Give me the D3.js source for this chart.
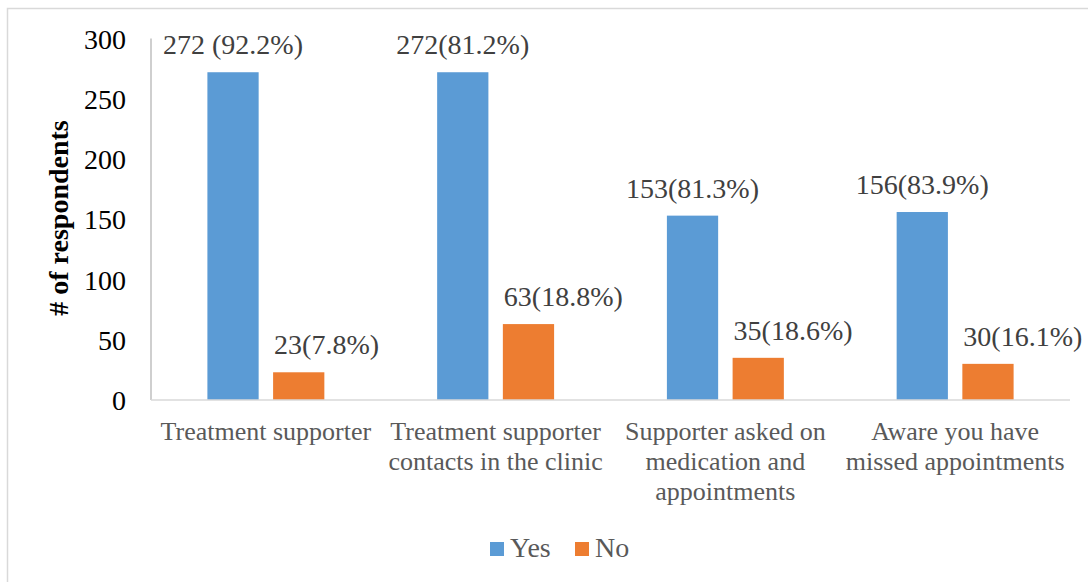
<!DOCTYPE html>
<html>
<head>
<meta charset="utf-8">
<script src="https://cdn.jsdelivr.net/npm/d3@7/dist/d3.min.js"></script>
<style>
  html, body { margin: 0; padding: 0; background: #fff; }
  svg { display: block; }
</style>
</head>
<body>
<svg id="chart" width="1088" height="582"></svg>
<script>
const categories = [
  ["Treatment supporter"],
  ["Treatment supporter", "contacts in the clinic"],
  ["Supporter asked on", "medication and", "appointments"],
  ["Aware you have", "missed appointments"]
];
const seriesNames = ["Yes", "No"];
const yesValues = [272, 272, 153, 156];
const noValues = [23, 63, 35, 30];
const yesLabels = ["272 (92.2%)", "272(81.2%)", "153(81.3%)", "156(83.9%)"];
const noLabels = ["23(7.8%)", "63(18.8%)", "35(18.6%)", "30(16.1%)"];
const yTicks = [0, 50, 100, 150, 200, 250, 300];
const colors = { Yes: "#5B9BD5", No: "#ED7D31" };

(function () {
const FONT = "'Liberation Serif', 'Times New Roman', Times, 'DejaVu Serif', serif";
const svg = d3.select("#chart").attr("font-family", FONT);

// chart border
svg.append("rect")
  .attr("x", 7.5).attr("y", 8.5)
  .attr("width", 1200).attr("height", 700)
  .attr("fill", "none").attr("stroke", "#D9D9D9").attr("stroke-width", 1.5);

const plotLeft = 151, plotRight = 1070, plotTop = 38.5, plotBottom = 400;
const idx = d3.range(categories.length);

const x0 = d3.scaleBand().domain(idx).range([plotLeft, plotRight]).padding(0);
const x1 = d3.scaleBand().domain(seriesNames)
  .range([56.4, x0.bandwidth() - 56.4]).paddingInner(0.22).paddingOuter(0);
const y = d3.scaleLinear().domain([0, 300]).range([plotBottom, plotTop]);

// y axis line
svg.append("line")
  .attr("x1", plotLeft).attr("x2", plotLeft).attr("y1", plotTop).attr("y2", plotBottom)
  .attr("stroke", "#BFBFBF").attr("stroke-width", 1.5);

// y tick labels
const yAxis = d3.axisLeft(y).tickValues(yTicks).tickSize(0).tickPadding(0);
const gy = svg.append("g").attr("transform", `translate(126,0)`).call(yAxis);
gy.attr("font-family", FONT).attr("font-size", 28);
gy.select(".domain").remove();
gy.selectAll("text")
  .attr("font-size", 28).attr("fill", "#000")
  .attr("font-family", FONT)
  .attr("dy", "0.34em");

// bars
const data = idx.map(i => ({ i, Yes: yesValues[i], No: noValues[i] }));
const groups = svg.append("g").selectAll("g").data(data).join("g")
  .attr("transform", d => `translate(${x0(d.i)},0)`);

groups.selectAll("rect").data(d => seriesNames.map(k => ({ k, v: d[k] })))
  .join("rect")
  .attr("x", d => x1(d.k))
  .attr("width", x1.bandwidth())
  .attr("y", d => y(d.v))
  .attr("height", d => y(0) - y(d.v))
  .attr("fill", d => colors[d.k]);

// data labels
groups.append("text")
  .attr("x", x1("Yes") + x1.bandwidth() / 2)
  .attr("y", d => y(d.Yes) - 18)
  .attr("text-anchor", "middle")
  .attr("font-family", FONT)
  .attr("font-size", 28).attr("fill", "#404040")
  .text(d => yesLabels[d.i]);

groups.append("text")
  .attr("x", x1("No") + 1)
  .attr("y", d => y(d.No) - 18)
  .attr("text-anchor", "start")
  .attr("font-family", FONT)
  .attr("font-size", 28).attr("fill", "#404040")
  .text(d => noLabels[d.i]);

// x axis line
svg.append("line")
  .attr("x1", plotLeft).attr("x2", plotRight).attr("y1", plotBottom).attr("y2", plotBottom)
  .attr("stroke", "#D9D9D9").attr("stroke-width", 1.5);

// category labels
const catText = svg.append("g").selectAll("text").data(idx).join("text")
  .attr("x", i => x0(i) + x0.bandwidth() / 2)
  .attr("y", 440)
  .attr("text-anchor", "middle")
  .attr("font-family", FONT)
  .attr("font-size", 26).attr("fill", "#595959");
catText.selectAll("tspan").data(i => categories[i].map(t => ({ t, cx: x0(i) + x0.bandwidth() / 2 })))
  .join("tspan")
  .attr("x", d => d.cx)
  .attr("dy", (d, j) => j === 0 ? 0 : 30)
  .text(d => d.t);

// y axis title
svg.append("text")
  .attr("transform", `translate(68,218) rotate(-90)`)
  .attr("text-anchor", "middle")
  .attr("font-family", FONT)
  .attr("font-size", 28).attr("font-weight", "bold").attr("fill", "#000")
  .text("# of respondents");

// legend
const legendItems = [
  { k: "Yes", x: 490 },
  { k: "No", x: 575 }
];
const lg = svg.append("g").selectAll("g").data(legendItems).join("g")
  .attr("transform", d => `translate(${d.x},0)`);
lg.append("rect")
  .attr("x", 0).attr("y", 542).attr("width", 14).attr("height", 14)
  .attr("fill", d => colors[d.k]);
lg.append("text")
  .attr("x", 20).attr("y", 557)
  .attr("font-family", FONT)
  .attr("font-size", 28).attr("fill", "#595959")
  .text(d => d.k);
})();
</script>
</body>
</html>
